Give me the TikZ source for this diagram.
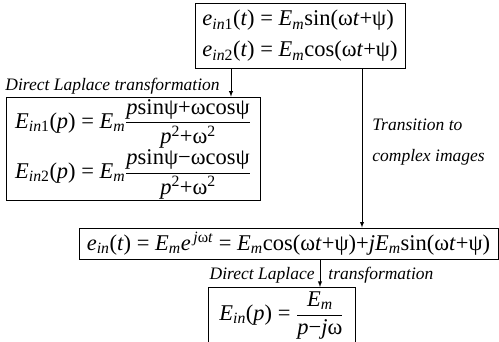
\documentclass[tikz,border=0pt]{standalone}
\usepackage{fontspec}
\usepackage{amsmath}
\setmainfont{LiberationSerif}[Extension=.ttf,
  UprightFont=*-Regular, ItalicFont=*-Italic,
  BoldFont=*-Bold, BoldItalicFont=*-BoldItalic]
\newcommand{\Em}{\textit{E}\textsubscript{\textit{m}}}

\begin{document}
\begin{tikzpicture}[x=1pt,y=-1pt,>=latex,line width=0.9pt,
  box/.style={draw,inner sep=2pt,font=\fontsize{22.5}{31}\selectfont},
  lbl/.style={inner sep=0pt,font=\fontsize{17.5}{31}\selectfont\itshape}]
\useasboundingbox (0,0) rectangle (499,342);

\node[box, minimum width=210, minimum height=65, align=left] (sig) at (300,36)
{\textit{e}\textsubscript{\textit{in}1}(\textit{t}) = \Em sin(ω\textit{t}+ψ)\\
 \textit{e}\textsubscript{\textit{in}2}(\textit{t}) = \Em cos(ω\textit{t}+ψ)};

\node[box, minimum width=254, minimum height=102, align=left] (lap) at (133,149)
{\textit{E}\textsubscript{\textit{in}1}(\textit{p}) = \Em$\dfrac{\text{\textit{p}sinψ+ωcosψ}}{\text{\textit{p}\textsuperscript{2}+ω\textsuperscript{2}}}$\\
 \textit{E}\textsubscript{\textit{in}2}(\textit{p}) = \Em$\dfrac{\text{\textit{p}sinψ−ωcosψ}}{\text{\textit{p}\textsuperscript{2}+ω\textsuperscript{2}}}$};

\node[box, minimum width=419, minimum height=31] (cplx) at (288.5,243.5)
{\textit{e}\textsubscript{\textit{in}}(\textit{t}) = \Em\textit{e}\textsuperscript{\,\textit{j}ω\textit{t}} = \Em cos(ω\textit{t}+ψ)+\textit{jE}\textsubscript{\textit{m}}sin(ω\textit{t}+ψ)};

\node[box, minimum width=147, anchor=north, inner ysep=4pt, text depth=26pt] (res) at (281.5,287)
{\textit{E}\textsubscript{\textit{in}}(\textit{p}) = $\dfrac{\text{\Em}}{\text{\textit{p}−\textit{j}ω}}$};

\node[lbl, anchor=west] (lbl1) at (5,86) {Direct Laplace transformation};
\node[lbl, anchor=west, align=left] (trans) at (372,142) {Transition to\\complex images};
\node[lbl, anchor=east] (lbl2) at (315,275) {Direct Laplace};
\node[lbl, anchor=west] (lbl3) at (328,275) {transformation};

\draw[->] ([xshift=-69pt]sig.south) -- ([xshift=-69pt]sig.south |- lap.north);
\draw[->] ([xshift=62pt]sig.south) -- ([xshift=62pt]sig.south |- cplx.north);
\draw[->] ([xshift=31.5pt]cplx.south) -- ([xshift=31.5pt]cplx.south |- res.north);
\end{tikzpicture}
\end{document}
